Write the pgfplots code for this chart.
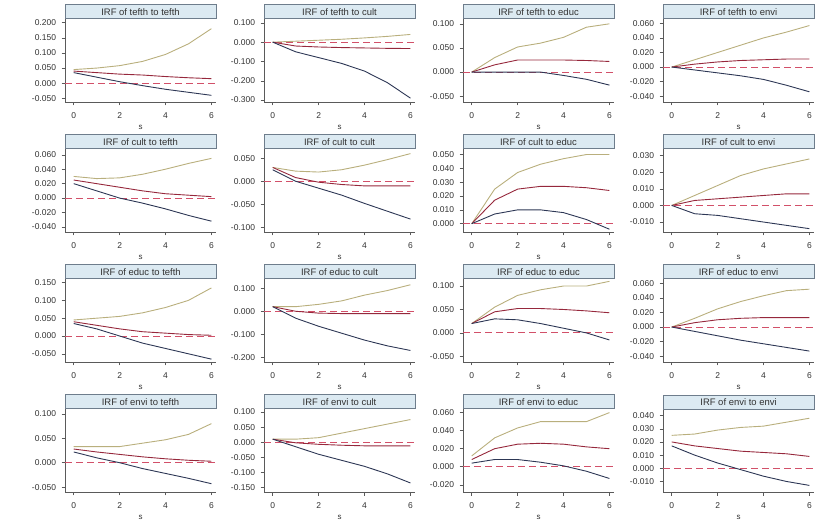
\documentclass[border=0pt]{standalone}
\usepackage{pgfplots}
\pgfplotsset{compat=1.18}
\usepackage{fontspec}
\setmainfont{Liberation Sans}
\definecolor{upc}{RGB}{185,175,125}
\definecolor{irfc}{RGB}{150,40,60}
\definecolor{loc}{RGB}{45,55,85}
\definecolor{zc}{RGB}{210,80,105}
\definecolor{tfill}{RGB}{220,234,242}
\definecolor{tdraw}{RGB}{110,125,140}
\definecolor{axc}{RGB}{90,90,90}
\definecolor{txc}{RGB}{50,50,50}
\pgfplotsset{
  irfax/.style={
    scale only axis, width=151bp, height=83bp,
    anchor=south west,
    xmin=-0.38, xmax=6.2,
    xtick={0,2,4,6},
    axis x line*=bottom, axis y line*=left,
    axis line style={-, draw=axc, line width=0.6bp},
    tick style={draw=axc, line width=0.5bp},
    tick align=outside, major tick length=3.5bp,
    scaled y ticks=false,
    yticklabel style={font=\fontsize{8.5}{9}\selectfont, text=txc, xshift=-2bp, /pgf/number format/.cd, fixed, fixed zerofill, precision=3, assume math mode=true},
    xticklabel style={font=\fontsize{8.5}{9}\selectfont, text=txc, /pgf/number format/assume math mode=true, yshift=-4bp},
    xlabel={s}, xlabel style={font=\fontsize{8}{9}\selectfont, text=txc, yshift=1bp},
    every axis title/.style={at={(0.5,1)}, anchor=south, fill=tfill, draw=tdraw, line width=0.5bp,
      minimum width=151bp, minimum height=14bp, inner sep=0pt, text=txc, font=\fontsize{9.5}{10}\selectfont},
    clip=true,
  },
  upl/.style={color=upc, line width=0.9bp, no markers},
  irl/.style={color=irfc, line width=0.9bp, no markers},
  lol/.style={color=loc, line width=0.9bp, no markers},
  zel/.style={color=zc, line width=0.9bp, dash pattern=on 7bp off 4bp, no markers},
}
\newcommand{\panel}[9]{%
\begin{axis}[irfax, at={(#1bp,#2bp)}, title={#3}, ymin=#4, ymax=#5, ytick={#6}]
\addplot[zel] coordinates {(-0.38,0) (6.2,0)};
\addplot[upl] coordinates {#7};
\addplot[irl] coordinates {#8};
\addplot[lol] coordinates {#9};
\end{axis}}
\begin{document}
\begin{tikzpicture}
\useasboundingbox (0,0) rectangle (815bp,521bp);
% Row 1
\panel{65}{419}{IRF of tefth to tefth}{-0.062}{0.212}{-0.05,0,0.05,0.1,0.15,0.2}
{(0,0.045)(1,0.05)(2,0.058)(3,0.072)(4,0.095)(5,0.13)(6,0.18)}
{(0,0.04)(1,0.035)(2,0.03)(3,0.027)(4,0.022)(5,0.018)(6,0.015)}
{(0,0.035)(1,0.02)(2,0.005)(3,-0.008)(4,-0.02)(5,-0.03)(6,-0.04)}
\panel{264}{419}{IRF of tefth to cult}{-0.31}{0.12}{-0.3,-0.2,-0.1,0,0.1}
{(0,0)(1,0.005)(2,0.01)(3,0.015)(4,0.022)(5,0.03)(6,0.04)}
{(0,0)(1,-0.02)(2,-0.025)(3,-0.028)(4,-0.03)(5,-0.032)(6,-0.033)}
{(0,0)(1,-0.05)(2,-0.08)(3,-0.11)(4,-0.15)(5,-0.21)(6,-0.29)}
\panel{463}{419}{IRF of tefth to educ}{-0.062}{0.11}{-0.05,0,0.05,0.1}
{(0,0)(1,0.03)(2,0.052)(3,0.06)(4,0.072)(5,0.093)(6,0.1)}
{(0,0)(1,0.015)(2,0.025)(3,0.025)(4,0.025)(5,0.024)(6,0.022)}
{(0,0)(1,0)(2,0)(3,0)(4,-0.007)(5,-0.015)(6,-0.027)}
\panel{663}{419}{IRF of tefth to envi}{-0.048}{0.066}{-0.04,-0.02,0,0.02,0.04,0.06}
{(0,0)(1,0.01)(2,0.02)(3,0.03)(4,0.04)(5,0.048)(6,0.057)}
{(0,0)(1,0.004)(2,0.007)(3,0.009)(4,0.01)(5,0.011)(6,0.011)}
{(0,0)(1,-0.004)(2,-0.008)(3,-0.012)(4,-0.017)(5,-0.025)(6,-0.034)}
% Row 2
\panel{65}{289}{IRF of cult to tefth}{-0.047}{0.068}{-0.04,-0.02,0,0.02,0.04,0.06}
{(0,0.03)(1,0.027)(2,0.028)(3,0.033)(4,0.04)(5,0.048)(6,0.055)}
{(0,0.025)(1,0.02)(2,0.015)(3,0.01)(4,0.006)(5,0.004)(6,0.002)}
{(0,0.02)(1,0.01)(2,0.0)(3,-0.007)(4,-0.015)(5,-0.024)(6,-0.032)}
\panel{264}{289}{IRF of cult to cult}{-0.11}{0.07}{-0.1,-0.05,0,0.05}
{(0,0.03)(1,0.022)(2,0.02)(3,0.025)(4,0.035)(5,0.047)(6,0.06)}
{(0,0.03)(1,0.008)(2,-0.002)(3,-0.007)(4,-0.01)(5,-0.01)(6,-0.01)}
{(0,0.025)(1,0.0)(2,-0.015)(3,-0.03)(4,-0.048)(5,-0.065)(6,-0.082)}
\panel{463}{289}{IRF of cult to educ}{-0.006}{0.054}{0,0.01,0.02,0.03,0.04,0.05}
{(0,0)(1,0.025)(2,0.037)(3,0.043)(4,0.047)(5,0.05)(6,0.05)}
{(0,0)(1,0.017)(2,0.025)(3,0.027)(4,0.027)(5,0.026)(6,0.024)}
{(0,0)(1,0.007)(2,0.01)(3,0.01)(4,0.008)(5,0.003)(6,-0.004)}
\panel{663}{289}{IRF of cult to envi}{-0.016}{0.034}{-0.01,0,0.01,0.02,0.03}
{(0,0)(1,0.006)(2,0.012)(3,0.018)(4,0.022)(5,0.025)(6,0.028)}
{(0,0)(1,0.003)(2,0.004)(3,0.005)(4,0.006)(5,0.007)(6,0.007)}
{(0,0)(1,-0.005)(2,-0.006)(3,-0.008)(4,-0.01)(5,-0.012)(6,-0.014)}
% Row 3
\panel{65}{159}{IRF of educ to tefth}{-0.073}{0.16}{-0.05,0,0.05,0.1,0.15}
{(0,0.045)(1,0.05)(2,0.055)(3,0.065)(4,0.08)(5,0.1)(6,0.135)}
{(0,0.04)(1,0.03)(2,0.02)(3,0.012)(4,0.008)(5,0.004)(6,0.002)}
{(0,0.035)(1,0.02)(2,0.0)(3,-0.02)(4,-0.035)(5,-0.05)(6,-0.065)}
\panel{264}{159}{IRF of educ to cult}{-0.22}{0.14}{-0.2,-0.1,0,0.1}
{(0,0.02)(1,0.02)(2,0.03)(3,0.045)(4,0.07)(5,0.09)(6,0.115)}
{(0,0.02)(1,0.0)(2,-0.008)(3,-0.01)(4,-0.01)(5,-0.01)(6,-0.01)}
{(0,0.02)(1,-0.03)(2,-0.065)(3,-0.095)(4,-0.125)(5,-0.15)(6,-0.17)}
\panel{463}{159}{IRF of educ to educ}{-0.062}{0.115}{-0.05,0,0.05,0.1}
{(0,0.02)(1,0.055)(2,0.08)(3,0.092)(4,0.1)(5,0.1)(6,0.11)}
{(0,0.02)(1,0.045)(2,0.052)(3,0.052)(4,0.05)(5,0.047)(6,0.043)}
{(0,0.02)(1,0.03)(2,0.028)(3,0.02)(4,0.01)(5,0.0)(6,-0.015)}
\panel{663}{159}{IRF of educ to envi}{-0.048}{0.066}{-0.04,-0.02,0,0.02,0.04,0.06}
{(0,0)(1,0.012)(2,0.025)(3,0.035)(4,0.043)(5,0.05)(6,0.052)}
{(0,0)(1,0.006)(2,0.01)(3,0.012)(4,0.013)(5,0.013)(6,0.013)}
{(0,0)(1,-0.006)(2,-0.012)(3,-0.018)(4,-0.023)(5,-0.028)(6,-0.033)}
% Row 4
\panel{65}{29}{IRF of envi to tefth}{-0.06}{0.11}{-0.05,0,0.05,0.1}
{(0,0.033)(1,0.033)(2,0.033)(3,0.04)(4,0.047)(5,0.058)(6,0.08)}
{(0,0.028)(1,0.022)(2,0.017)(3,0.012)(4,0.008)(5,0.005)(6,0.003)}
{(0,0.022)(1,0.01)(2,0.0)(3,-0.012)(4,-0.022)(5,-0.032)(6,-0.043)}
\panel{264}{29}{IRF of envi to cult}{-0.165}{0.11}{-0.15,-0.1,-0.05,0,0.05,0.1}
{(0,0.01)(1,0.01)(2,0.015)(3,0.03)(4,0.045)(5,0.06)(6,0.075)}
{(0,0.01)(1,-0.002)(2,-0.007)(3,-0.01)(4,-0.012)(5,-0.012)(6,-0.012)}
{(0,0.01)(1,-0.015)(2,-0.04)(3,-0.06)(4,-0.08)(5,-0.105)(6,-0.135)}
\panel{463}{29}{IRF of envi to educ}{-0.028}{0.064}{-0.02,0,0.02,0.04,0.06}
{(0,0.012)(1,0.032)(2,0.043)(3,0.05)(4,0.05)(5,0.05)(6,0.06)}
{(0,0.008)(1,0.02)(2,0.025)(3,0.026)(4,0.025)(5,0.022)(6,0.02)}
{(0,0.004)(1,0.008)(2,0.008)(3,0.005)(4,0.001)(5,-0.005)(6,-0.013)}
\panel{663}{29}{IRF of envi to envi}{-0.018}{0.045}{-0.01,0,0.01,0.02,0.03,0.04}
{(0,0.025)(1,0.026)(2,0.029)(3,0.031)(4,0.032)(5,0.035)(6,0.038)}
{(0,0.02)(1,0.017)(2,0.015)(3,0.013)(4,0.012)(5,0.011)(6,0.009)}
{(0,0.017)(1,0.01)(2,0.004)(3,-0.001)(4,-0.006)(5,-0.01)(6,-0.013)}
\end{tikzpicture}
\end{document}
